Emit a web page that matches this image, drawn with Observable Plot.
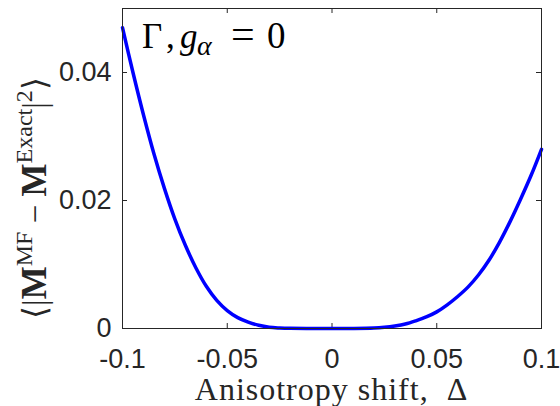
<!DOCTYPE html>
<html>
<head>
<meta charset="utf-8">
<script src="https://cdn.jsdelivr.net/npm/d3@7"></script>
<script src="https://cdn.jsdelivr.net/npm/@observablehq/plot@0.6"></script>
<style>
  html, body { margin: 0; padding: 0; background: #fff; }
</style>
</head>
<body>
<div id="chart"></div>
<script>
const delta = [-0.1, -0.095, -0.09, -0.085, -0.08, -0.075, -0.07, -0.065, -0.06, -0.055, -0.05, -0.045, -0.04, -0.035, -0.03, -0.025, -0.02, -0.01, 0, 0.01, 0.02, 0.025, 0.03, 0.035, 0.04, 0.045, 0.05, 0.055, 0.06, 0.065, 0.07, 0.075, 0.08, 0.085, 0.09, 0.095, 0.1];
const err = [0.0470, 0.0400, 0.0334, 0.0273, 0.0219, 0.0171, 0.0130, 0.0095, 0.0066, 0.0044, 0.0028, 0.0017, 0.0010, 0.0005, 0.0002, 0.00008, 0.00002, 0, 0, 0.00001, 0.00008, 0.0002, 0.0004, 0.0007, 0.0012, 0.0018, 0.0026, 0.0037, 0.0050, 0.0065, 0.0084, 0.0107, 0.0135, 0.0167, 0.0202, 0.0239, 0.0280];
const xTicks = [-0.1, -0.05, 0, 0.05, 0.1];
const yTicks = [0, 0.02, 0.04];
const xTickLabels = ["-0.1", "-0.05", "0", "0.05", "0.1"];
const yTickLabels = ["0", "0.02", "0.04"];

const data = delta.map((d, i) => ({delta: d, err: err[i]}));

const W = 560, H = 406;
const mL = 122, mR = 19, mT = 8, mB = 78;
const pW = W - mL - mR, pH = H - mT - mB;
const ink = "#262626";

const chart = Plot.plot({
  width: W,
  height: H,
  marginLeft: mL,
  marginRight: mR,
  marginTop: mT,
  marginBottom: mB,
  style: {fontFamily: "'Liberation Sans', Arial, sans-serif", fontSize: "27px", color: ink, background: "#fff"},
  x: {domain: [-0.1, 0.1]},
  y: {domain: [0, 0.05]},
  marks: [
    Plot.axisX({ticks: xTicks, tickFormat: (d) => xTickLabels[xTicks.indexOf(d)], tickSize: 0, tickPadding: 20, label: null, fill: ink}),
    Plot.axisY({ticks: yTicks, tickFormat: (d) => yTickLabels[yTicks.indexOf(d)], tickSize: 0, tickPadding: 11, label: null, fill: ink}),
    Plot.ruleX(xTicks, {insetTop: pH - 5, stroke: ink}),
    Plot.ruleX(xTicks, {insetBottom: pH - 5, stroke: ink}),
    Plot.ruleY(yTicks, {insetRight: pW - 5, stroke: ink}),
    Plot.ruleY(yTicks, {insetLeft: pW - 5, stroke: ink}),
    Plot.line(data, {x: "delta", y: "err", stroke: "#0000ff", strokeWidth: 3.5, curve: "catmull-rom"}),
    Plot.frame({stroke: ink, strokeWidth: 1})
  ]
});

document.getElementById("chart").appendChild(chart);

const svg = d3.select(chart);
const serif = "'Liberation Serif', 'Times New Roman', serif";

// x label
svg.append("text")
  .attr("x", mL + pW / 2).attr("y", 400)
  .attr("text-anchor", "middle")
  .attr("font-family", serif).attr("font-size", 32)
  .attr("letter-spacing", 1)
  .attr("fill", ink)
  .text("Anisotropy shift,  Δ");

// y label
const yl = svg.append("text")
  .attr("transform", "translate(46,198) rotate(-90)")
  .attr("text-anchor", "middle")
  .attr("font-family", serif).attr("font-size", 33)
  .attr("fill", ink);
yl.append("tspan").text("⟨|");
yl.append("tspan").attr("font-weight", "bold").attr("font-size", 35).text("M");
yl.append("tspan").attr("font-size", 24).attr("dy", -14).text("MF");
yl.append("tspan").attr("dy", 14).text(" − ");
yl.append("tspan").attr("font-weight", "bold").attr("font-size", 35).text("M");
yl.append("tspan").attr("font-size", 24).attr("dy", -14).text("Exact");
yl.append("tspan").attr("dy", 14).text("|");
yl.append("tspan").attr("font-size", 24).attr("dy", -14).text("2");
yl.append("tspan").attr("dy", 14).text("⟩");

// title inside
const tt = svg.append("text")
  .attr("x", 142).attr("y", 48)
  .attr("text-anchor", "start")
  .attr("font-family", serif).attr("font-size", 35)
  .attr("fill", "#000");
tt.append("tspan").attr("x", 142).text("Γ");
tt.append("tspan").attr("x", 166).text(",");
tt.append("tspan").attr("x", 180).attr("font-style", "italic").text("g");
tt.append("tspan").attr("x", 197).attr("dy", 7).attr("font-style", "italic").attr("font-size", 28).text("α");
tt.append("tspan").attr("x", 231).attr("dy", -7).attr("font-size", 42).text("=");
tt.append("tspan").attr("x", 267).attr("font-size", 37).text("0");
</script>
</body>
</html>
